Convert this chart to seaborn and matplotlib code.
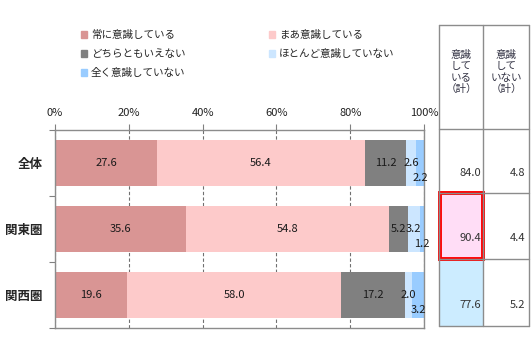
import numpy as np
import pandas as pd
import matplotlib
matplotlib.use("Agg")
import matplotlib.pyplot as plt
import seaborn as sns
from matplotlib.patches import Rectangle
from matplotlib.lines import Line2D
from matplotlib.ticker import PercentFormatter

# Survey answers by region (%)
regions = ["全体", "関東圏", "関西圏"]
answers = ["常に意識している", "まあ意識している", "どちらともいえない",
           "ほとんど意識していない", "全く意識していない"]
always = [27.6, 35.6, 19.6]
somewhat = [56.4, 54.8, 58.0]
neutral = [11.2, 5.2, 17.2]
rarely = [2.6, 3.2, 2.0]
never = [2.2, 1.2, 3.2]

# Summary table at the right
table_headers = ["意識\nして\nいる\n（計）", "意識\nして\nいない\n（計）"]
aware_total = [84.0, 90.4, 77.6]
unaware_total = [4.8, 4.4, 5.2]

colors = ["#D99594", "#FDCACA", "#808080", "#CCE6FF", "#99CCFF"]

sns.set_theme(style="white")
plt.rcParams["font.family"] = ["Noto Sans CJK JP", "DejaVu Sans"]

W, H = 532, 348
fig = plt.figure(figsize=(W / 100, H / 100), dpi=100)


def fx(px):
    return px / W


def fy(py):
    return 1 - py / H


ax = fig.add_axes([fx(55), fy(328), fx(424) - fx(55), fy(130) - fy(328)])

series = [always, somewhat, neutral, rarely, never]
df = pd.DataFrame({a: s for a, s in zip(answers, series)}, index=regions)
cum = df.cumsum(axis=1)
cum.index.name = "region"
cum = cum.reset_index()

# Stacked bars: draw cumulative totals from the longest to the shortest
for i in reversed(range(len(answers))):
    sns.barplot(data=cum, x=answers[i], y="region", order=regions, orient="h",
                color=colors[i], saturation=1, width=0.71, errorbar=None,
                edgecolor="none", linewidth=0, ax=ax)

# Segment value labels
cum_vals = df.cumsum(axis=1)
for j, reg in enumerate(regions):
    for i, a in enumerate(answers):
        v = df.loc[reg, a]
        c = cum_vals.loc[reg, a] - v / 2
        dy = 0.22 if i == len(answers) - 1 else 0.0
        ax.text(c, j + dy, f"{v:.1f}", ha="center", va="center",
                fontsize=8, color="#1a1a1a", zorder=5)

ax.set_xlim(0, 100)
ax.set_ylim(2.5, -0.5)
ax.xaxis.tick_top()
ax.set_xticks(np.arange(0, 101, 20))
ax.xaxis.set_major_formatter(PercentFormatter(decimals=0))
ax.tick_params(axis="x", which="major", direction="out", length=4, width=0.8,
               color="#808080", labelsize=8, pad=5, top=True, bottom=False,
               labelcolor="#222222")
ax.xaxis.grid(True, linestyle=(0, (3, 2)), color="#707070", linewidth=0.8)
ax.set_axisbelow(True)

ax.set_yticks(range(len(regions)))
ax.set_yticklabels(regions, fontsize=9, fontweight="bold")
ax.set_yticks([-0.5, 0.5, 1.5, 2.5], minor=True)
ax.tick_params(axis="y", which="major", length=0, pad=9)
ax.tick_params(axis="y", which="minor", direction="out", length=4, width=0.8,
               color="#808080", left=True)
ax.set_xlabel("")
ax.set_ylabel("")
for sp in ax.spines.values():
    sp.set_visible(True)
    sp.set_color("#8c8c8c")
    sp.set_linewidth(1)
    sp.set_zorder(4)

# Legend laid out row by row in two columns
handles = [Rectangle((0, 0), 1, 1, color=c) for c in colors]
order = [0, 2, 4, 1, 3]
fig.legend([handles[k] for k in order], [answers[k] for k in order],
           loc="upper left", bbox_to_anchor=(fx(81), fy(30)), ncol=2,
           frameon=False, fontsize=7.6, handlelength=0.6, handleheight=0.6,
           handletextpad=0.35, columnspacing=7.9, labelspacing=0.85,
           borderaxespad=0, borderpad=0)

# Summary table
col_x = [439, 483, 529]
row_y = [25, 129, 193, 259, 326]


def frect(x0, y0, x1, y1, **kw):
    r = Rectangle((fx(x0), fy(y1)), fx(x1) - fx(x0), fy(y0) - fy(y1),
                  transform=fig.transFigure, **kw)
    fig.add_artist(r)


frect(col_x[0], row_y[2], col_x[1], row_y[3], facecolor="#FFDDF6", edgecolor="none")
frect(col_x[0], row_y[3], col_x[1], row_y[4], facecolor="#CCECFF", edgecolor="none")
for x in col_x:
    fig.add_artist(Line2D([fx(x), fx(x)], [fy(row_y[0]), fy(row_y[-1])],
                          transform=fig.transFigure, color="#8c8c8c", lw=1))
for y in row_y:
    fig.add_artist(Line2D([fx(col_x[0]), fx(col_x[-1])], [fy(y), fy(y)],
                          transform=fig.transFigure, color="#8c8c8c", lw=1))
frect(col_x[0] + 1, row_y[2], col_x[1], row_y[3], facecolor="none",
      edgecolor="#FF0000", linewidth=2.8)

for k, h in enumerate(table_headers):
    cx = (col_x[k] + col_x[k + 1]) / 2
    fig.text(fx(cx), fy(72), h, ha="center", va="center", fontsize=7.6,
             linespacing=1.2, color="#333344")

value_y = [173, 238, 305]
for r in range(len(regions)):
    fig.text(fx(col_x[1] - 2), fy(value_y[r]), f"{aware_total[r]:.1f}",
             ha="right", va="center", fontsize=8, color="#333333")
    fig.text(fx(col_x[2] - 4), fy(value_y[r]), f"{unaware_total[r]:.1f}",
             ha="right", va="center", fontsize=8, color="#333333")

fig.savefig("out.png", dpi=100)
